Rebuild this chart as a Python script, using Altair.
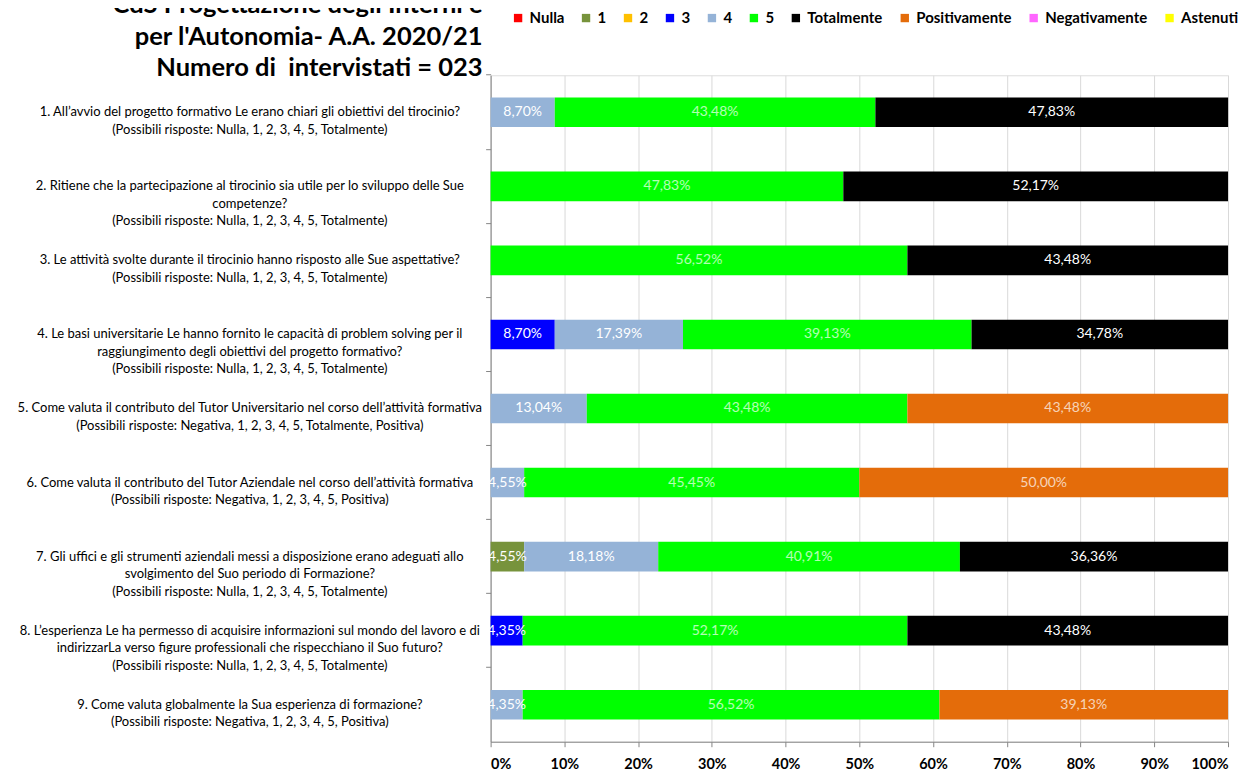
import altair as alt
import pandas as pd

title_lines = ["CdS Progettazione degli Interni e", "per l'Autonomia- A.A. 2020/21", "Numero di\u00a0 intervistati = 023"]

question_ids = ["D1", "D2", "D3", "D4", "D5", "D6", "D7", "D8", "D9"]
question_texts = [
    "1. All’avvio del progetto formativo Le erano chiari gli obiettivi del tirocinio?\n(Possibili risposte: Nulla, 1, 2, 3, 4, 5, Totalmente)",
    "2. Ritiene che la partecipazione al tirocinio sia utile per lo sviluppo delle Sue\ncompetenze?\n(Possibili risposte: Nulla, 1, 2, 3, 4, 5, Totalmente)",
    "3. Le attività svolte durante il tirocinio hanno risposto alle Sue aspettative?\n(Possibili risposte: Nulla, 1, 2, 3, 4, 5, Totalmente)",
    "4. Le basi universitarie Le hanno fornito le capacità di problem solving per il\nraggiungimento degli obiettivi del progetto formativo?\n(Possibili risposte: Nulla, 1, 2, 3, 4, 5, Totalmente)",
    "5. Come valuta il contributo del Tutor Universitario nel corso dell’attività formativa\n(Possibili risposte: Negativa, 1, 2, 3, 4, 5, Totalmente, Positiva)",
    "6. Come valuta il contributo del Tutor Aziendale nel corso dell’attività formativa\n(Possibili risposte: Negativa, 1, 2, 3, 4, 5, Positiva)",
    "7. Gli uffici e gli strumenti aziendali messi a disposizione erano adeguati allo\nsvolgimento del Suo periodo di Formazione?\n(Possibili risposte: Nulla, 1, 2, 3, 4, 5, Totalmente)",
    "8. L’esperienza Le ha permesso di acquisire informazioni sul mondo del lavoro e di\nindirizzarLa verso figure professionali che rispecchiano il Suo futuro?\n(Possibili risposte: Nulla, 1, 2, 3, 4, 5, Totalmente)",
    "9. Come valuta globalmente la Sua esperienza di formazione?\n(Possibili risposte: Negativa, 1, 2, 3, 4, 5, Positiva)",
]

categories = ["Nulla", "1", "2", "3", "4", "5", "Totalmente", "Positivamente", "Negativamente", "Astenuti"]
colors = ["#ff0000", "#77933c", "#ffc000", "#0000ff", "#95b3d7", "#00ff00", "#000000", "#e46c0a", "#ff66ff", "#ffff00"]

v_nulla = [0, 0, 0, 0, 0, 0, 0, 0, 0]
v_1 = [0, 0, 0, 0, 0, 0, 4.55, 0, 0]
v_2 = [0, 0, 0, 0, 0, 0, 0, 0, 0]
v_3 = [0, 0, 0, 8.70, 0, 0, 0, 4.35, 0]
v_4 = [8.70, 0, 0, 17.39, 13.04, 4.55, 18.18, 0, 4.35]
v_5 = [43.48, 47.83, 56.52, 39.13, 43.48, 45.45, 40.91, 52.17, 56.52]
v_tot = [47.83, 52.17, 43.48, 34.78, 0, 0, 36.36, 43.48, 0]
v_pos = [0, 0, 0, 0, 43.48, 50.00, 0, 0, 39.13]
v_neg = [0, 0, 0, 0, 0, 0, 0, 0, 0]
v_ast = [0, 0, 0, 0, 0, 0, 0, 0, 0]

series = [v_nulla, v_1, v_2, v_3, v_4, v_5, v_tot, v_pos, v_neg, v_ast]

rows = []
for ci, (cat, vals) in enumerate(zip(categories, series)):
    for qi, q in enumerate(question_ids):
        rows.append({"q": q, "cat": cat, "ci": ci, "v": vals[qi]})
df = pd.DataFrame(rows)
labels_df = pd.DataFrame({"q": question_ids, "text": question_texts})
title_df = pd.DataFrame({"t": ["\n".join(title_lines)]})

FONT = "Lato"
QFONT = "Lato"

y_enc = alt.Y("q:N", sort=question_ids,
              scale=alt.Scale(paddingInner=0.6, paddingOuter=0.3),
              axis=alt.Axis(title=None, labels=False, ticks=True, tickSize=5,
                            bandPosition=-0.75, tickColor="#868686",
                            domainColor="#868686", grid=False))

base = alt.Chart(df).transform_filter("datum.v > 0").transform_stack(
    stack="v", groupby=["q"], as_=["x0", "x1"],
    sort=[alt.SortField("ci", order="ascending")]
).transform_calculate(
    mid="(datum.x0 + datum.x1) / 2",
    lab="replace(format(datum.v, '.2f'), '.', ',') + '%'"
)

bars = base.mark_bar().encode(
    x=alt.X("x0:Q", scale=alt.Scale(domain=[0, 100], nice=False),
            axis=alt.Axis(title=None, values=[0, 10, 20, 30, 40, 50, 60, 70, 80, 90, 100],
                          labelExpr="datum.value + '%'", grid=True, gridColor="#d9d9d9",
                          domainColor="#868686", tickColor="#868686", tickSize=5,
                          labelFont=FONT, labelFontSize=14.5, labelFontWeight="bold",
                          labelColor="#000000", labelPadding=11)),
    x2="x1:Q",
    y=y_enc,
    color=alt.Color("cat:N", scale=alt.Scale(domain=categories, range=colors),
                    legend=alt.Legend(title=None, orient="none", legendX=20, legendY=-65,
                                      direction="horizontal", columns=10,
                                      symbolType="square", symbolSize=70,
                                      symbolStrokeWidth=0, labelFont=FONT,
                                      labelFontSize=15, labelFontWeight="bold",
                                      labelColor="#000000", columnPadding=14,
                                      labelOffset=4)),
    order=alt.Order("ci:Q"),
)

bar_text = base.mark_text(font=FONT, fontSize=14, color="white", baseline="middle").encode(
    x=alt.X("mid:Q"),
    y=alt.Y("q:N", sort=question_ids),
    text="lab:N",
    opacity=alt.condition("datum.cat == '5' || datum.cat == 'Positivamente'",
                          alt.value(0.7), alt.value(1.0)),
)

q_text = alt.Chart(labels_df).mark_text(
    font=QFONT, fontSize=13, lineBreak="\n", lineHeight=17.5,
    align="center", baseline="middle", color="#000000"
).encode(
    x=alt.value(-241),
    y=alt.Y("q:N", sort=question_ids),
    text="text:N",
)

title_text = alt.Chart(title_df).mark_text(
    font=FONT, fontSize=25.5, fontWeight="bold", lineBreak="\n", lineHeight=31.5,
    align="right", baseline="alphabetic", color="#000000"
).encode(
    x=alt.value(-8),
    y=alt.value(-62),
    text="t:N",
)

chart = alt.layer(bars, bar_text, q_text, title_text).properties(
    width=738, height=667,
    autosize=alt.AutoSizeParams(type="none"),
    padding={"left": 483, "top": 67, "right": 20, "bottom": 35},
).configure_view(stroke=None).configure(background="white")

chart.save("out.html", embed_options={"renderer": "svg", "actions": False})
